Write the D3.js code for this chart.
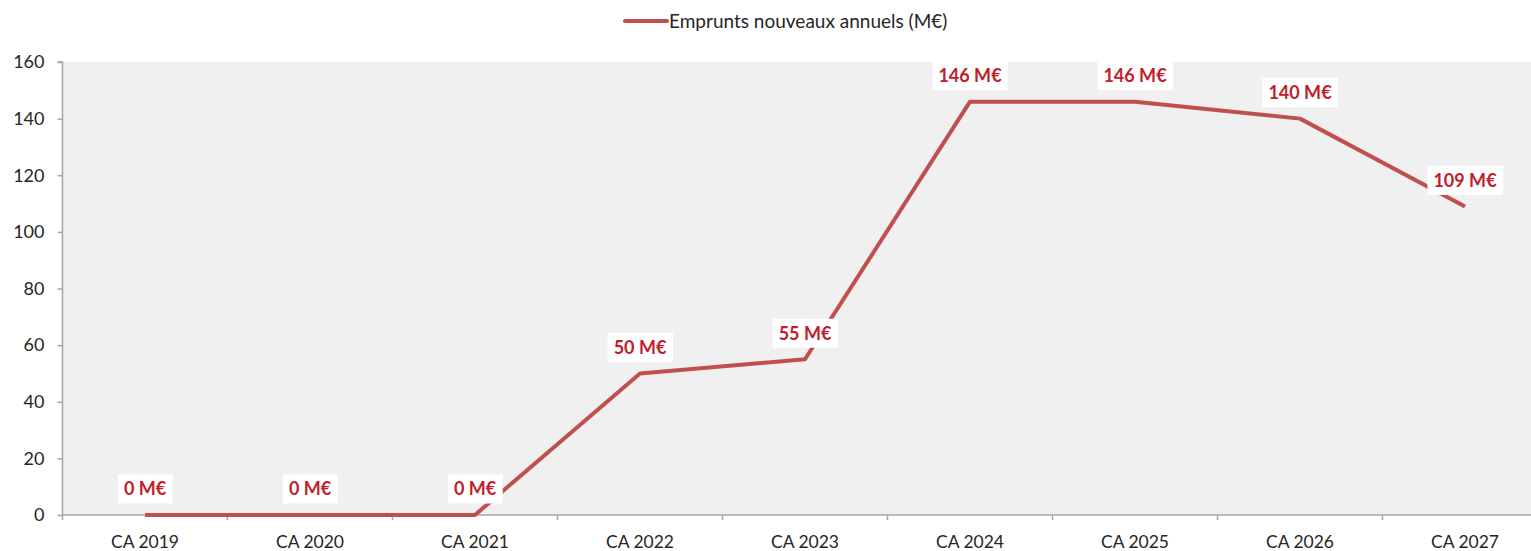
<!DOCTYPE html>
<html>
<head>
<meta charset="utf-8">
<script src="https://cdn.jsdelivr.net/npm/d3@7"></script>
<style>
  html, body { margin: 0; padding: 0; background: #ffffff; }
  svg { display: block; }
  text { font-family: Lato, "Open Sans", sans-serif; }
</style>
</head>
<body>
<svg id="chart" width="1531" height="551"></svg>
<script>
// Annual new borrowings, in millions of euros
const categories = ["CA 2019", "CA 2020", "CA 2021", "CA 2022", "CA 2023", "CA 2024", "CA 2025", "CA 2026", "CA 2027"];
const borrowings = [0, 0, 0, 50, 55, 146, 146, 140, 109];
const yTicks = [0, 20, 40, 60, 80, 100, 120, 140, 160];
const seriesName = "Emprunts nouveaux annuels (M€)";

const svg = d3.select("#chart");
const margin = { left: 62.5, top: 62, bottom: 515 };
const bandWidth = 165;

const x = d3.scaleBand()
  .domain(categories)
  .range([margin.left, margin.left + bandWidth * categories.length])
  .paddingInner(0).paddingOuter(0);

const y = d3.scaleLinear().domain([0, 160]).range([margin.bottom, margin.top]);

// plot area background
svg.append("rect")
  .attr("x", x.range()[0]).attr("y", y(160))
  .attr("width", x.range()[1] - x.range()[0])
  .attr("height", y(0) - y(160))
  .attr("fill", "#f0f0f0");

// y axis
const yAxis = svg.append("g")
  .attr("transform", `translate(${margin.left},0)`)
  .call(d3.axisLeft(y).tickValues(yTicks).tickSize(5).tickPadding(13));
yAxis.select(".domain").attr("stroke", "#a6a6a6").attr("stroke-width", 1.5)
  .attr("d", `M-5,${y(160)}H0V${y(0) + 5}`);
yAxis.selectAll(".tick line").attr("stroke", "#a6a6a6").attr("stroke-width", 1.5);
yAxis.selectAll(".tick text").attr("fill", "#262626").attr("font-size", 18)
  .style("font-family", "Lato, 'Open Sans', sans-serif");

// x axis with ticks on category boundaries
const xAxisG = svg.append("g").attr("transform", `translate(0,${y(0)})`);
xAxisG.append("line")
  .attr("x1", x.range()[0]).attr("x2", x.range()[1])
  .attr("y1", 0).attr("y2", 0)
  .attr("stroke", "#a6a6a6").attr("stroke-width", 1.5);
xAxisG.selectAll("line.boundary")
  .data(categories.slice(1))
  .enter().append("line")
  .attr("class", "boundary")
  .attr("x1", d => x(d)).attr("x2", d => x(d))
  .attr("y1", 0).attr("y2", 5)
  .attr("stroke", "#a6a6a6").attr("stroke-width", 1.5);
xAxisG.selectAll("text")
  .data(categories)
  .enter().append("text")
  .attr("x", d => x(d) + x.bandwidth() / 2)
  .attr("y", 33)
  .attr("text-anchor", "middle")
  .attr("fill", "#262626")
  .attr("font-size", 17.5)
  .text(d => d);

// series line
const line = d3.line()
  .x((d, i) => x(categories[i]) + x.bandwidth() / 2)
  .y(d => y(d));

svg.append("path")
  .datum(borrowings)
  .attr("d", line)
  .attr("fill", "none")
  .attr("stroke", "#c0504d")
  .attr("stroke-width", 4)
  .attr("stroke-linejoin", "round");

// value labels on white boxes
const labels = svg.append("g").selectAll("g")
  .data(borrowings)
  .enter().append("g")
  .attr("transform", (d, i) => `translate(${x(categories[i]) + x.bandwidth() / 2},${y(d) - 26})`);

labels.append("rect").attr("fill", "#ffffff");
labels.append("text")
  .attr("text-anchor", "middle")
  .attr("dy", "0.35em")
  .attr("fill", "#c0202a")
  .attr("font-weight", "bold")
  .attr("font-size", 18)
  .text(d => `${d} M€`);
labels.each(function () {
  const g = d3.select(this);
  const bb = g.select("text").node().getBBox();
  g.select("rect")
    .attr("x", bb.x - 6).attr("y", -14.5)
    .attr("width", bb.width + 12).attr("height", 29);
});

// legend
const legend = svg.append("g").attr("transform", "translate(625,21)");
legend.append("line")
  .attr("x1", 0).attr("x2", 42).attr("y1", 0).attr("y2", 0)
  .attr("stroke", "#c0504d").attr("stroke-width", 4).attr("stroke-linecap", "round");
legend.append("text")
  .attr("x", 44).attr("dy", "0.35em")
  .attr("fill", "#262626").attr("font-size", 19)
  .text(seriesName);
</script>
</body>
</html>
